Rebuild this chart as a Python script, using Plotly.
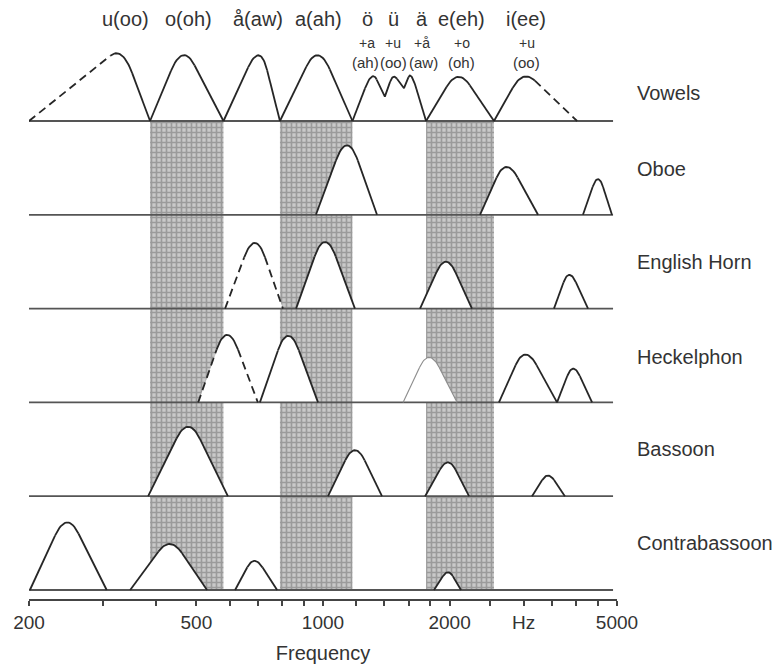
import numpy as np
import plotly.graph_objects as go

# ---- data -----------------------------------------------------------------
ROW_NAMES = ["Vowels", "Oboe", "English Horn", "Heckelphon", "Bassoon", "Contrabassoon"]
ROW_LEVELS = [5, 4, 3, 2, 1, 0]
LABEL_LIFT = [0.30, 0.49, 0.50, 0.48, 0.50, 0.50]

# each formant: (frequencies in Hz, relative levels, line style)
VOWEL_FORMANTS = [
    ((200, 333, 388), (0, 0.70, 0), "left_dashed"),
    ((388, 464, 580), (0, 0.70, 0), "solid"),
    ((580, 708, 790), (0, 0.70, 0), "solid"),
    ((790, 973, 1175), (0, 0.70, 0), "solid"),
    ((1175, 1308, 1403, 1467, 1558, 1619, 1758), (0, 0.47, 0.26, 0.47, 0.35, 0.47, 0), "solid"),
    ((1758, 2094, 2550), (0, 0.47, 0), "solid"),
    ((2550, 2990, 4019), (0, 0.47, 0), "right_dashed"),
]
OBOE_FORMANTS = [
    ((962, 1141, 1344), (0, 0.74, 0), "solid"),
    ((2362, 2724, 3245), (0, 0.51, 0), "solid"),
    ((4150, 4507, 4864), (0, 0.38, 0), "solid"),
]
ENGLISH_HORN_FORMANTS = [
    ((585, 689, 803), (0, 0.70, 0), "dashed"),
    ((863, 1011, 1191), (0, 0.71, 0), "solid"),
    ((1701, 1960, 2260), (0, 0.50, 0), "solid"),
    ((3541, 3844, 4267), (0, 0.36, 0), "solid"),
]
HECKELPHON_FORMANTS = [
    ((505, 591, 700), (0, 0.72, 0), "dashed"),
    ((708, 826, 973), (0, 0.71, 0), "solid"),
    ((1550, 1786, 2084), (0, 0.48, 0), "faint"),
    ((2620, 3022, 3601), (0, 0.51, 0), "solid"),
    ((3601, 3930, 4362), (0, 0.36, 0), "solid"),
]
BASSOON_FORMANTS = [
    ((384, 478, 594), (0, 0.74, 0), "solid"),
    ((1028, 1191, 1381), (0, 0.49, 0), "solid"),
    ((1749, 1983, 2224), (0, 0.36, 0), "solid"),
    ((3140, 3426, 3759), (0, 0.22, 0), "solid"),
]
CONTRABASSOON_FORMANTS = [
    ((201, 246, 306), (0, 0.72, 0), "solid"),
    ((348, 433, 530), (0, 0.49, 0), "solid"),
    ((618, 686, 778), (0, 0.31, 0), "solid"),
    ((1836, 1983, 2129), (0, 0.19, 0), "solid"),
]
ROW_FORMANTS = [VOWEL_FORMANTS, OBOE_FORMANTS, ENGLISH_HORN_FORMANTS,
                HECKELPHON_FORMANTS, BASSOON_FORMANTS, CONTRABASSOON_FORMANTS]

# shaded frequency bands (Hz)
BANDS = [(388, 580), (790, 1175), (1758, 2550)]
BASELINE_SPAN = (200, 4893)

# vowel names above the top row
VOWEL_LABELS = ["u(oo)", "o(oh)", "å(aw)", "a(ah)", "ö", "ü", "ä", "e(eh)", "i(ee)"]
VOWEL_LABEL_HZ = [340, 478, 701, 973, 1273, 1467, 1719, 2140, 3039]
MIX_LABELS = ["+a", "+u", "+å", "+o", "+u"]
MIX_LABEL_HZ = [1273, 1467, 1719, 2140, 3054]
MIX_SUB_LABELS = ["(ah)", "(oo)", "(aw)", "(oh)", "(oo)"]
MIX_SUB_HZ = [1259, 1467, 1729, 2140, 3054]

TICK_HZ = [200, 300, 400, 500, 600, 700, 800, 900, 1000, 1200, 1400, 1600, 1800,
           2000, 2500, 3000, 3500, 4000, 4500, 5000]
TICK_TEXT = ["200", "", "", "500", "", "", "", "", "1000", "", "", "", "",
             "2000", "", "Hz", "", "", "", "5000"]

FONT = "Liberation Sans, Arial, Helvetica, sans-serif"
INK = "#262626"
TEXT = "#333333"


def formant_outline(freqs, levels, cap=0.028, n=18):
    """Straight flanks with a rounded top at every local peak, on a
    log-frequency scale. Returns point runs: flank, cap, flank, ..."""
    x = np.log10(np.asarray(freqs, float))
    y = np.asarray(levels, float)
    runs, cur = [], [(x[0], y[0])]
    for i in range(1, len(x) - 1):
        if y[i] > y[i - 1] and y[i] > y[i + 1]:
            dxl, dxr = x[i] - x[i - 1], x[i + 1] - x[i]
            gl = min(0.36, cap / dxl)
            gr = min(0.36, cap / dxr)
            ay, by = y[i - 1], y[i + 1]
            vy = (y[i] - 0.25 * (gl * ay + gr * by)) / (1 - 0.25 * (gl + gr))
            p0 = (x[i] - gl * dxl, vy - gl * (vy - ay))
            p2 = (x[i] + gr * dxr, vy - gr * (vy - by))
            cur.append(p0)
            runs.append(cur)
            t = np.linspace(0, 1, n)
            bx = (1 - t) ** 2 * p0[0] + 2 * t * (1 - t) * x[i] + t ** 2 * p2[0]
            bz = (1 - t) ** 2 * p0[1] + 2 * t * (1 - t) * vy + t ** 2 * p2[1]
            runs.append(list(zip(bx, bz)))
            cur = [p2]
        else:
            cur.append((x[i], y[i]))
    cur.append((x[-1], y[-1]))
    runs.append(cur)
    return runs


STYLE_RUNS = {
    "solid": ["solid", "solid", "solid"],
    "dashed": ["dash", "solid", "dash"],
    "left_dashed": ["dash", "solid", "solid"],
    "right_dashed": ["solid", "solid", "dash"],
    "faint": ["faint", "faint", "faint"],
}
LINE_STYLES = {
    "solid": dict(color=INK, width=1.8),
    "dash": dict(color=INK, width=1.8, dash="8px,5px"),
    "faint": dict(color="#8c8c8c", width=1.1),
}

fig = go.Figure()

# stippled bands
for f0, f1 in BANDS:
    lx = np.log10([f0, f1, f1, f0, f0])
    fig.add_trace(go.Scatter(
        x=lx, y=[0, 0, 5, 5, 0],
        mode="lines", fill="toself", line=dict(width=0),
        fillcolor="#c4c4c4",
        fillpattern=dict(shape="+", fgcolor="#6e6e6e", bgcolor="#c9c9c9",
                         size=5, solidity=0.55),
        hoverinfo="skip", showlegend=False))

outlines = []
for level, formants in zip(ROW_LEVELS, ROW_FORMANTS):
    for freqs, levels, style in formants:
        runs = formant_outline(freqs, levels)
        pts = [p for r in runs for p in r]
        px = [p[0] for p in pts]
        py = [p[1] + level for p in pts]
        # white body hides the bands behind each formant
        fig.add_trace(go.Scatter(
            x=px + [px[0]], y=py + [py[0]], mode="lines", fill="toself",
            fillcolor="white", line=dict(width=0),
            hoverinfo="skip", showlegend=False))
        kinds = STYLE_RUNS[style] if len(runs) == 3 else ["solid"] * len(runs)
        for r, kind in zip(runs, kinds):
            outlines.append(([p[0] for p in r], [p[1] + level for p in r], kind))

# baselines
for level in ROW_LEVELS:
    fig.add_trace(go.Scatter(
        x=np.log10(BASELINE_SPAN), y=[level, level], mode="lines",
        line=dict(color="#555555", width=1.8),
        hoverinfo="skip", showlegend=False))

for xs, ys, kind in outlines:
    fig.add_trace(go.Scatter(
        x=xs, y=ys, mode="lines", line=LINE_STYLES[kind],
        hoverinfo="skip", showlegend=False))

annotations = []
for name, level, lift in zip(ROW_NAMES, ROW_LEVELS, LABEL_LIFT):
    annotations.append(dict(
        x=(635 - 29) / 588, xref="paper", y=level + lift, yref="y",
        text=name, showarrow=False, xanchor="left", yanchor="middle",
        font=dict(size=20, color=TEXT, family=FONT)))
for txt, hz in zip(VOWEL_LABELS, VOWEL_LABEL_HZ):
    annotations.append(dict(
        x=np.log10(hz), xref="x", y=6.087, yref="y", text=txt, showarrow=False,
        xanchor="center", yanchor="middle",
        font=dict(size=20, color=TEXT, family=FONT)))
for txt, hz in zip(MIX_LABELS, MIX_LABEL_HZ):
    annotations.append(dict(
        x=np.log10(hz), xref="x", y=5.83, yref="y", text=txt, showarrow=False,
        xanchor="center", yanchor="middle",
        font=dict(size=14, color=TEXT, family=FONT)))
for txt, hz in zip(MIX_SUB_LABELS, MIX_SUB_HZ):
    annotations.append(dict(
        x=np.log10(hz), xref="x", y=5.62, yref="y", text=txt, showarrow=False,
        xanchor="center", yanchor="middle",
        font=dict(size=15, color=TEXT, family=FONT)))

fig.update_layout(
    width=779, height=670,
    margin=dict(l=29, r=162, t=0, b=71),
    paper_bgcolor="white", plot_bgcolor="white",
    showlegend=False,
    annotations=annotations,
    xaxis=dict(
        type="linear", range=[np.log10(200), np.log10(5000)],
        tickmode="array", tickvals=np.log10(TICK_HZ), ticktext=TICK_TEXT,
        ticks="outside", ticklen=5, tickwidth=1.5, tickcolor="#444",
        showline=True, linecolor="#444", linewidth=1.5,
        showgrid=False, zeroline=False,
        tickfont=dict(size=19, color=TEXT, family=FONT),
        title=dict(text="Frequency", font=dict(size=20, color=TEXT, family=FONT),
                   standoff=14),
    ),
    yaxis=dict(range=[-0.096, 6.29], visible=False, fixedrange=True),
)

fig.write_html("out.html")
